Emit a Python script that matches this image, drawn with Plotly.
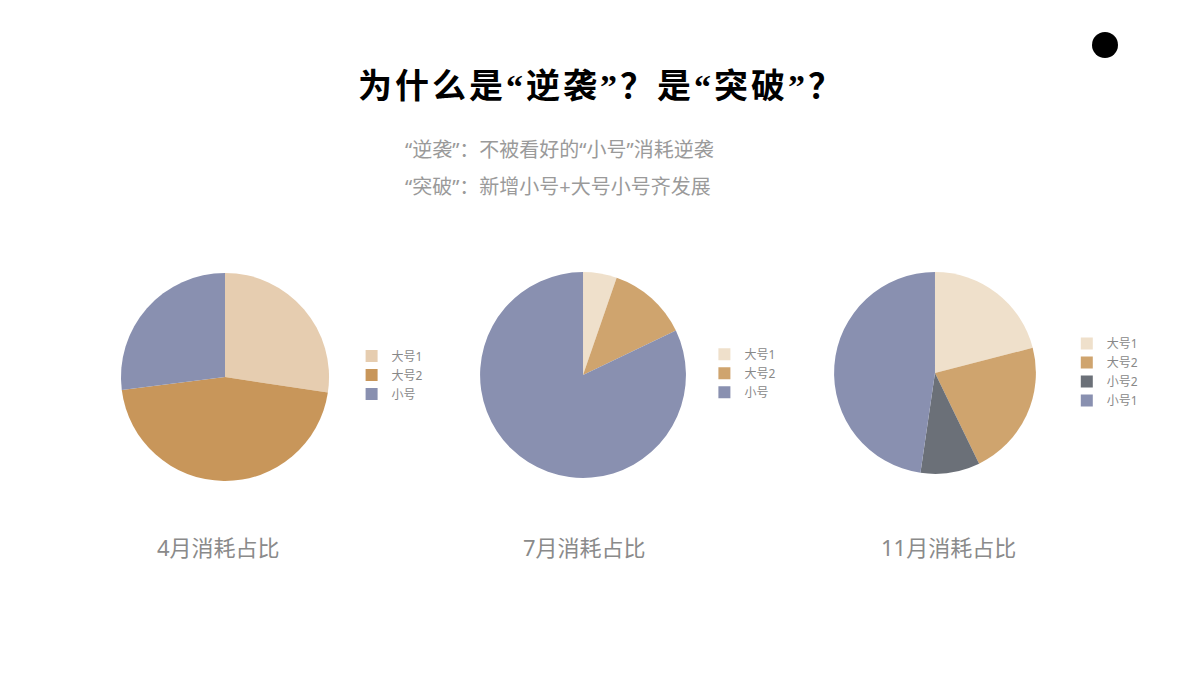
import plotly.graph_objects as go

# 各月消耗占比（%）
apr_labels = ["大号1", "大号2", "小号"]
apr_values = [27.4, 45.6, 27.0]

jul_labels = ["大号1", "大号2", "小号"]
jul_values = [5.3, 12.6, 82.1]

nov_labels = ["大号1", "大号2", "小号2", "小号1"]
nov_values = [21.0, 21.8, 9.5, 47.7]

chart_titles = ["4月消耗占比", "7月消耗占比", "11月消耗占比"]

title = "为什么是“逆袭”？是“突破”？"
subtitle_1 = "“逆袭”：不被看好的“小号”消耗逆袭"
subtitle_2 = "“突破”：新增小号+大号小号齐发展"

cjk = "Noto Sans CJK SC"
mixed = "Noto Sans, Noto Sans CJK SC"

# pie legends share labels across traces, so make each pie's labels unique
def tag(labels, n):
    return [lab + "\u200b" * n for lab in labels]

# title: narrow serif quotes, a little letter spacing like the slide
q = '<span style="font-family:Liberation Serif">{}</span>'
title_html = title.replace("“", q.format("“")).replace("”", q.format("”"))
title_html = '<span style="letter-spacing:3px"><b>' + title_html + "</b></span>"

fig = go.Figure()

fig.add_trace(go.Pie(
    labels=tag(apr_labels, 0), values=apr_values,
    marker=dict(colors=["#E6CDB0", "#C8965A", "#8990B0"]),
    domain=dict(x=[0.1008, 0.2742], y=[0.287, 0.596]),
    sort=False, direction="clockwise", rotation=0,
    textinfo="none", legend="legend",
))
fig.add_trace(go.Pie(
    labels=tag(jul_labels, 1), values=jul_values,
    marker=dict(colors=["#EFE0CB", "#CFA46E", "#8990B0"]),
    domain=dict(x=[0.40, 0.5717], y=[0.292, 0.597]),
    sort=False, direction="clockwise", rotation=0,
    textinfo="none", legend="legend2",
))
fig.add_trace(go.Pie(
    labels=tag(nov_labels, 2), values=nov_values,
    marker=dict(colors=["#EFE0CB", "#CFA46E", "#6B7078", "#8990B0"]),
    domain=dict(x=[0.695, 0.8633], y=[0.298, 0.597]),
    sort=False, direction="clockwise", rotation=0,
    textinfo="none", legend="legend3",
))

legend_style = dict(font=dict(family=mixed, size=12, color="#888888"),
                    bgcolor="rgba(0,0,0,0)", itemwidth=30,
                    xanchor="left", yanchor="middle")

label_font = dict(family=mixed, size=22, color="#8A8A8A")
sub_font = dict(family=mixed, size=20, color="#9A9A9A")

fig.update_layout(
    width=1200, height=675,
    margin=dict(l=0, r=0, t=0, b=0),
    paper_bgcolor="white", plot_bgcolor="white",
    font=dict(family=mixed),
    legend=dict(x=0.293, y=0.4444, **legend_style),
    legend2=dict(x=0.587, y=0.447, **legend_style),
    legend3=dict(x=0.889, y=0.449, **legend_style),
    annotations=[
        dict(text=title_html, x=0.5015, y=0.877, xref="paper", yref="paper",
             xanchor="center", yanchor="middle", showarrow=False,
             font=dict(family=cjk, size=34, color="#000000")),
        dict(text=subtitle_1, x=0.336, y=0.7778, xref="paper", yref="paper",
             xanchor="left", yanchor="middle", showarrow=False, font=sub_font),
        dict(text=subtitle_2, x=0.336, y=0.7244, xref="paper", yref="paper",
             xanchor="left", yanchor="middle", showarrow=False, font=sub_font),
        dict(text=chart_titles[0], x=0.1817, y=0.1896, xref="paper", yref="paper",
             xanchor="center", yanchor="middle", showarrow=False, font=label_font),
        dict(text=chart_titles[1], x=0.4867, y=0.1896, xref="paper", yref="paper",
             xanchor="center", yanchor="middle", showarrow=False, font=label_font),
        dict(text=chart_titles[2], x=0.79, y=0.1896, xref="paper", yref="paper",
             xanchor="center", yanchor="middle", showarrow=False, font=label_font),
    ],
    shapes=[
        dict(type="circle", xref="paper", yref="paper",
             x0=1092 / 1200, x1=1118 / 1200, y0=(675 - 58) / 675, y1=(675 - 32) / 675,
             fillcolor="#000000", line=dict(width=0)),
    ],
)

fig.write_html("out.html", config={"displayModeBar": False},
               post_script="document.body.style.margin='0';")
